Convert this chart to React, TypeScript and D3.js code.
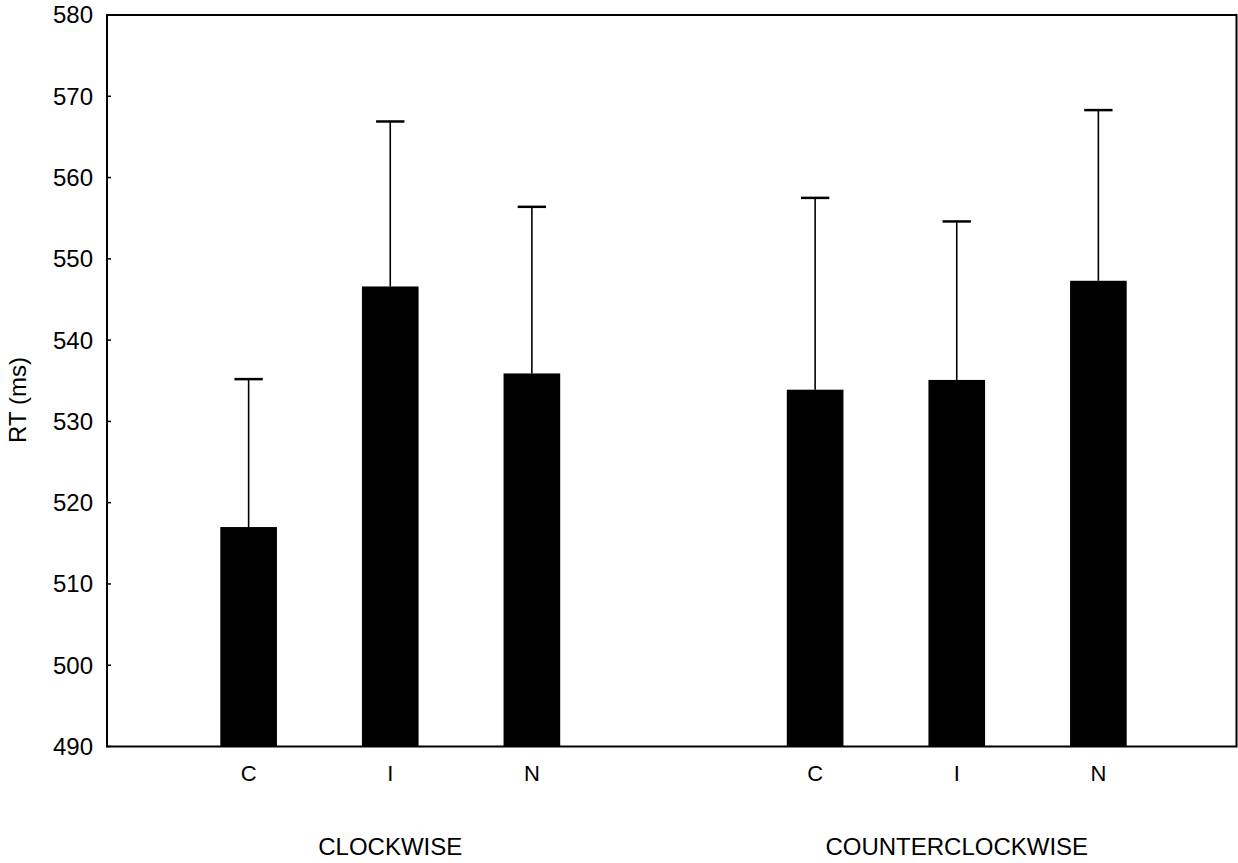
import React, { useEffect } from "react";
import * as d3 from "d3";

const groups = ["CLOCKWISE", "COUNTERCLOCKWISE"];
const conditions = ["C", "I", "N"];
const meanRT = [517.0, 546.6, 535.9, 533.9, 535.1, 547.3];
const upperRT = [535.2, 566.9, 556.4, 557.5, 554.6, 568.3];
const yTicks = [490, 500, 510, 520, 530, 540, 550, 560, 570, 580];

const W = 1238;
const H = 863;
const left = 107;
const right = 1236.5;
const top = 15;
const bottom = 746.5;

export default function App() {
  useEffect(() => {
    document.body.style.margin = "0";
  }, []);

  const y = d3.scaleLinear().domain([490, 580]).range([bottom, top]);
  const slots = groups.length * (conditions.length + 1);
  const x = d3.scaleLinear().domain([0, slots]).range([left, 1240]);
  const step = x(1) - x(0);
  const barW = step * 0.4;
  const capW = step * 0.2;

  const items = meanRT.map((m, i) => {
    const g = Math.floor(i / conditions.length);
    const j = i % conditions.length;
    const slot = g * (conditions.length + 1) + j + 1;
    return { m, u: upperRT[i], label: conditions[j], cx: x(slot) };
  });

  const groupCenters = groups.map((name, g) => ({
    name,
    cx: x(g * (conditions.length + 1) + 2),
  }));

  const font = "'Liberation Sans', Arial, sans-serif";

  return (
    <svg width={W} height={H} style={{ display: "block", background: "#fff" }} fontFamily={font}>
      <rect x={0} y={0} width={W} height={H} fill="#fff" />
      {items.map((d, i) => (
        <g key={i}>
          <line x1={d.cx} x2={d.cx} y1={y(d.m)} y2={y(d.u)} stroke="#000" strokeWidth={1.6} />
          <line x1={d.cx - capW / 2} x2={d.cx + capW / 2} y1={y(d.u)} y2={y(d.u)} stroke="#000" strokeWidth={2.5} />
          <rect x={d.cx - barW / 2} y={y(d.m)} width={barW} height={bottom - y(d.m)} fill="#000" />
          <text x={d.cx} y={781} fontSize={22} textAnchor="middle" fill="#000">{d.label}</text>
        </g>
      ))}
      <rect x={left} y={top} width={right - left} height={bottom - top} fill="none" stroke="#000" strokeWidth={2} />
      {yTicks.map((t) => (
        <g key={t}>
          <line x1={left} x2={left + 4} y1={y(t)} y2={y(t)} stroke="#000" strokeWidth={1.5} />
          <text x={93} y={y(t)} dy="0.35em" fontSize={24} textAnchor="end" fill="#000">{t}</text>
        </g>
      ))}
      {groupCenters.map((g) => (
        <text key={g.name} x={g.cx} y={855} fontSize={24} textAnchor="middle" fill="#000">{g.name}</text>
      ))}
      <text transform={`translate(26,400) rotate(-90)`} fontSize={24} textAnchor="middle" fill="#000">RT (ms)</text>
    </svg>
  );
}
